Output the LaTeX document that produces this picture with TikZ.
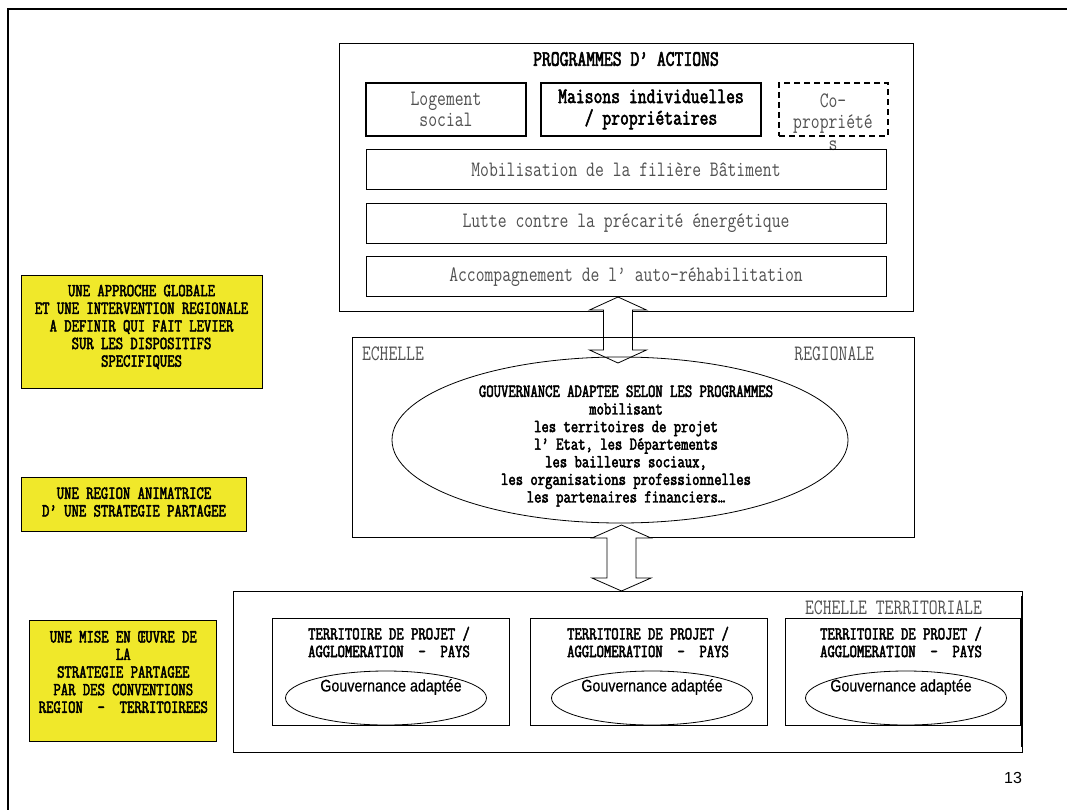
\documentclass[tikz,border=0pt]{standalone}
\usepackage{fontspec}
\usetikzlibrary{shapes.geometric}
\newfontfamily\simr{Latin Modern Mono}[FakeStretch=0.78]
\newfontfamily\simb{Latin Modern Mono}[FakeStretch=0.78,FakeBold=2.6]
\newfontfamily\arialf{Liberation Sans}
\newfontfamily\arialn{Liberation Sans}[FakeStretch=0.85,FakeBold=0.6]
\definecolor{ylw}{RGB}{240,232,42}
\definecolor{txtgray}{RGB}{80,80,80}
\begin{document}
\begin{tikzpicture}[x=1pt,y=-1pt,
  every node/.style={inner sep=0pt, outer sep=0pt},
  plainbox/.style={draw, line width=0.8pt},
  thickbox/.style={draw, line width=2.2pt},
  dashbox/.style={draw, line width=1.3pt, dash pattern=on 6pt off 4pt},
  ybox/.style={draw, fill=ylw, line width=0.8pt},
  graytxt/.style={text=txtgray, font=\simr\fontsize{22}{21.5}\selectfont, align=center},
  bigbold/.style={text=black, font=\simb\fontsize{22}{21.5}\selectfont, align=center},
  smallbold/.style={text=black, font=\simb\fontsize{18.3}{17.6}\selectfont, align=center},
  sanstxt/.style={text=black, font=\arialn\fontsize{16.8}{18}\selectfont},
  ell/.style={draw, ellipse, line width=0.8pt},
  dblarrow/.style={draw, fill=white, line width=0.8pt, line join=miter}
]
\useasboundingbox (0,0) rectangle (1067,810);
\fill[white] (0,0) rectangle (1067,810);
% page frame
\coordinate (fbl) at (8,810);
\coordinate (ftl) at (8,9);
\coordinate (ftr) at (1067,9);
\draw[line width=2.4pt] (fbl) -- (ftl) -- (ftr);

% ---------- top box ----------
\node[plainbox, minimum width=574, minimum height=268] (prog) at (626,177) {};
\node[bigbold] (progt) at (626,59) {PROGRAMMES D’ ACTIONS};
\node[thickbox, graytxt, minimum width=160, minimum height=53] (loge) at (446,109.5) {Logement\\social};
\node[thickbox, bigbold, minimum width=220, minimum height=53] (mais) at (651,109.5) {Maisons individuelles\\/ propriétaires};
\node[dashbox, minimum width=109, minimum height=53] (copro) at (833.5,109.5) {};
\node[graytxt] (coprot) at (833,122) {Co-\\propriété\\s};
\node[plainbox, graytxt, minimum width=520, minimum height=40] (mobi) at (626,169.5) {Mobilisation de la filière Bâtiment};
\node[plainbox, graytxt, minimum width=520, minimum height=40] (lutte) at (626,223.3) {Lutte contre la précarité énergétique};
\node[plainbox, graytxt, minimum width=520, minimum height=40] (acc) at (626,276.7) {Accompagnement de l’ auto-réhabilitation};

% ---------- arrow 1 ----------
\coordinate (a1) at (618,297);
\draw[dblarrow] (a1) -- ++(28.5,13) -- ++(-14,0) -- ++(0,40) -- ++(14,0) -- ++(-28.5,13)
  -- ++(-28.5,-13) -- ++(14,0) -- ++(0,-40) -- ++(-14,0) -- cycle;

% ---------- regional box ----------
\node[plainbox, minimum width=562, minimum height=200] (reg) at (633,437) {};
\node[graytxt, anchor=west] (regl) at (362,354) {ECHELLE};
\node[graytxt, anchor=east] (regr) at (874,354) {REGIONALE};
\node[ell, minimum width=456, minimum height=166] (gov) at (620,440) {};
\node[smallbold] (govt) at (626,446) {GOUVERNANCE ADAPTEE SELON LES PROGRAMMES\\mobilisant\\les territoires de projet\\l’ Etat, les Départements\\les bailleurs sociaux,\\les organisations professionnelles\\les partenaires financiers…};

% ---------- arrow 2 ----------
\coordinate (a2) at (621.5,525);
\draw[dblarrow] (a2) -- ++(29.5,13) -- ++(-15,0) -- ++(0,40) -- ++(15,0) -- ++(-29.5,13)
  -- ++(-29.5,-13) -- ++(15,0) -- ++(0,-40) -- ++(-15,0) -- cycle;

% ---------- territorial box ----------
\node[plainbox, minimum width=789, minimum height=161] (terr) at (627.5,671.5) {};
\draw[line width=2.4pt] ([yshift=-5pt]terr.north east) -- ([yshift=5pt]terr.south east);
\node[graytxt] (terrt) at (893.5,608) {ECHELLE TERRITORIALE};

\node[plainbox, minimum width=237, minimum height=107] (t1) at (391,671.5) {};
\node[plainbox, minimum width=237, minimum height=107] (t2) at (649,671.5) {};
\node[plainbox, minimum width=235, minimum height=107] (t3) at (902.5,671.5) {};
\node[smallbold] (t1t) at (389,642) {TERRITOIRE DE PROJET /\\AGGLOMERATION~~-~~PAYS};
\node[smallbold] (t2t) at (648,642) {TERRITOIRE DE PROJET /\\AGGLOMERATION~~-~~PAYS};
\node[smallbold] (t3t) at (901,642) {TERRITOIRE DE PROJET /\\AGGLOMERATION~~-~~PAYS};
\node[ell, minimum width=201, minimum height=54] (e1) at (386,698) {};
\node[ell, minimum width=201, minimum height=54] (e2) at (652,698) {};
\node[ell, minimum width=201, minimum height=54] (e3) at (906,698) {};
\node[sanstxt] (e1t) at (391,687) {Gouvernance adaptée};
\node[sanstxt] (e2t) at (652,687) {Gouvernance adaptée};
\node[sanstxt] (e3t) at (901,687) {Gouvernance adaptée};

% ---------- yellow boxes ----------
\node[ybox, minimum width=241.3, minimum height=113.3] (y1) at (141.7,331.7) {};
\node[smallbold] (y1t) at (141.5,327) {UNE APPROCHE GLOBALE\\ET UNE INTERVENTION REGIONALE\\A DEFINIR QUI FAIT LEVIER\\SUR LES DISPOSITIFS\\SPECIFIQUES};
\node[ybox, minimum width=225.7, minimum height=54.4] (y2) at (133.8,504.5) {};
\node[smallbold] (y2t) at (134,502) {UNE REGION ANIMATRICE\\D’ UNE STRATEGIE PARTAGEE};
\node[ybox, minimum width=187.4, minimum height=121] (y3) at (123,681.2) {};
\node[smallbold] (y3t) at (123.3,672) {UNE MISE EN ŒUVRE DE\\LA\\STRATEGIE PARTAGEE\\PAR DES CONVENTIONS\\REGION~~-~~TERRITOIREES};

% page number
\node[text=black, font=\arialf\fontsize{16}{18}\selectfont] (pnum) at (1013,778) {13};
\end{tikzpicture}
\end{document}
